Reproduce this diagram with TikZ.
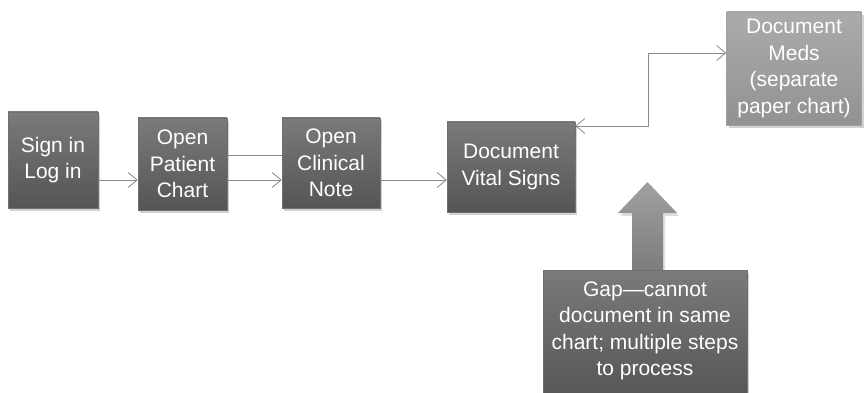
\documentclass[tikz,border=0pt]{standalone}
\usepackage{fontspec}
\setmainfont{Liberation Sans}
\usetikzlibrary{arrows.meta,shadows}
\definecolor{boxtop}{HTML}{7A7A7A}
\definecolor{boxbot}{HTML}{555555}
\definecolor{boxedge}{HTML}{707070}
\definecolor{medtop}{HTML}{ABABAB}
\definecolor{medbot}{HTML}{929292}
\definecolor{mededge}{HTML}{A0A0A0}
\definecolor{arrtop}{HTML}{A0A0A0}
\definecolor{arrbot}{HTML}{7C7C7C}
\definecolor{linecol}{HTML}{8A8A8A}
\tikzset{
  boxfont/.style={font=\fontsize{21}{26.5}\selectfont},
  stepbox/.style={rectangle, top color=boxtop, bottom color=boxbot, draw=boxedge, line width=0.6pt,
    text=white, align=center, inner sep=0pt, boxfont,
    drop shadow={shadow xshift=2pt, shadow yshift=-3pt, opacity=0.35}},
  medbox/.style={stepbox, top color=medtop, bottom color=medbot, draw=mededge},
  conn/.style={draw=linecol, line width=0.8pt, -{Straight Barb[length=9pt,width=15pt]}},
  plain/.style={draw=linecol, line width=0.8pt},
}
\begin{document}
\begin{tikzpicture}[x=1pt,y=-1pt]
\useasboundingbox (0,0) rectangle (865,393);
\fill[white] (0,0) rectangle (865,393);
\node[stepbox, minimum width=90pt, minimum height=96pt] (sign) at (53,160) {Sign in\\Log in};
\node[stepbox, minimum width=89pt, minimum height=92pt] (chart) at (182.5,164) {Open\\Patient\\Chart};
\node[stepbox, minimum width=98pt, minimum height=90pt] (note) at (331,163) {Open\\Clinical\\Note};
\node[stepbox, minimum width=128pt, minimum height=90pt] (vital) at (511,167) {Document\\Vital Signs};
\node[medbox, minimum width=135pt, minimum height=113pt] (meds) at (794,68.5) {Document\\Meds\\(separate\\paper chart)};
% block arrow
\shade[top color=arrtop, bottom color=arrbot, drop shadow={shadow xshift=2pt, shadow yshift=-3pt, opacity=0.25}]
  (632,272) -- (632,213) -- (618,213) -- (647.5,182) -- (677,213) -- (663,213) -- (663,272) -- cycle;
\node[stepbox, minimum width=204pt, minimum height=130pt, anchor=north] (gap) at (645,270) {};
\node[text=white, align=center, boxfont] (gaptext) at (645,331) {Gap---cannot\\document in same\\chart; multiple steps\\to process};
% connectors
\coordinate (ya) at (0,180);
\coordinate (yb) at (0,155);
\coordinate (yc) at (0,126);
\coordinate (yd) at (0,53);
\coordinate (bend) at (648,0);
\draw[conn] (sign.east |- ya) -- (chart.west |- ya);
\draw[plain] (chart.east |- yb) -- (note.west |- yb);
\draw[conn] (chart.east |- ya) -- (note.west |- ya);
\draw[conn] (note.east |- ya) -- (vital.west |- ya);
\draw[conn, {Straight Barb[length=9pt,width=15pt]}-{Straight Barb[length=9pt,width=15pt]}]
  (vital.east |- yc) -- (bend |- yc) -- (bend |- yd) -- (meds.west |- yd);
\end{tikzpicture}
\end{document}
